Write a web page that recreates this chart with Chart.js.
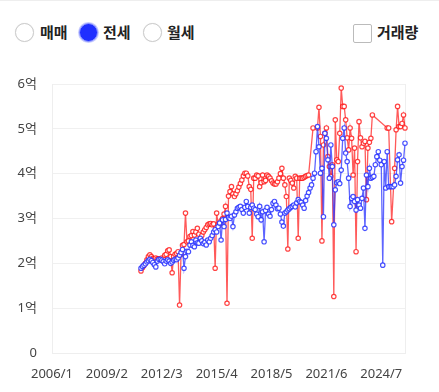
<!DOCTYPE html>
<html>
<head>
<meta charset="utf-8">
<script src="https://cdn.jsdelivr.net/npm/chart.js@4.4.1/dist/chart.umd.min.js"></script>
<style>
  body { margin: 0; background: #fff; font-family: 'Noto Sans', 'Noto Sans CJK KR', sans-serif; }
  #wrap { position: relative; width: 439px; height: 392px; border-top: 1px solid #eee; box-sizing: border-box; overflow: hidden; }
  .radio { position: absolute; top: 22px; width: 17px; height: 17px; border-radius: 50%; border: 1px solid #ccc; background: #fff; box-shadow: 0 0 1px #ddd; }
  .radio.on { background: #1f2fff; border-color: #8c96ff; box-shadow: 0 0 0 1px #c8ccff; }
  .lbl { position: absolute; top: 20px; font-size: 15px; font-weight: bold; color: #222; font-family: 'Noto Sans CJK KR', sans-serif; }
  .chk { position: absolute; left: 353px; top: 23px; width: 17px; height: 17px; border: 1px solid #bbb; border-radius: 2px; background: #fff; }
  #chart { position: absolute; left: 0; top: 59px; }
</style>
</head>
<body>
<div id="wrap">
  <div class="radio" style="left:15px"></div><div class="lbl" style="left:40px">매매</div>
  <div class="radio on" style="left:79px"></div><div class="lbl" style="left:103px">전세</div>
  <div class="radio" style="left:143px"></div><div class="lbl" style="left:167px">월세</div>
  <div class="chk"></div><div class="lbl" style="left:377px">거래량</div>
  <canvas id="chart" width="439" height="332"></canvas>
</div>
<script>
// months shown on the axis: 2006/1 .. 2025/11
const firstYear = 2006, lastYear = 2025, lastMonth = 11;
const shownTicks = ['2006/1', '2009/2', '2012/3', '2015/4', '2018/5', '2021/6', '2024/7'];
const dataStart = '2011/1';

// 억 units, monthly from 2011/1
const blueValues = [
  1.89,1.93,1.96,1.99,2.03,2.06,2.09,2.06,2.02,1.97,1.92,2.05,
  2.09,2.09,2.07,2.04,1.99,2.05,2.08,2.05,2.00,2.03,2.07,2.09,
  2.08,2.12,2.18,2.24,2.31,1.89,2.15,2.27,2.26,2.41,2.48,2.40,
  2.37,2.52,2.46,2.45,2.56,2.50,2.44,2.47,2.41,2.52,2.48,2.56,
  2.62,2.70,2.75,2.70,2.82,2.90,2.52,2.97,2.82,2.98,3.12,3.02,
  3.00,3.05,2.82,3.08,3.15,3.23,3.25,3.27,3.20,3.12,3.25,3.38,
  3.27,3.12,3.25,3.30,3.23,3.20,3.10,3.04,3.27,2.97,3.15,2.48,
  3.18,3.25,3.10,3.05,3.20,3.34,3.38,3.30,3.22,3.23,3.10,2.92,
  2.83,3.12,3.15,3.19,3.22,3.25,3.27,3.30,3.26,3.35,3.42,3.38,
  3.36,3.30,3.23,3.40,3.50,3.58,3.68,3.75,3.90,4.01,4.49,5.05,
  4.60,4.01,4.12,3.04,4.90,4.79,4.31,3.90,4.64,4.16,2.86,3.64,
  3.80,3.82,3.78,4.08,4.79,5.02,4.46,4.27,3.90,3.27,3.45,3.49,
  3.38,3.19,3.42,3.30,3.23,3.45,3.68,2.78,3.97,3.71,4.12,3.90,
  3.92,3.94,4.20,4.38,4.49,4.30,4.20,1.96,4.27,3.68,4.49,3.71,
  3.71,3.71,3.71,3.75,3.94,4.31,4.42,3.79,4.16,4.30,4.68
];
const redValues = [
  1.83,1.90,1.95,2.00,2.08,2.15,2.19,2.15,2.11,2.10,2.12,2.10,
  2.10,2.08,2.12,2.10,2.18,2.20,2.28,2.30,2.15,1.79,2.15,2.20,
  2.22,2.26,1.07,2.20,2.40,2.42,3.12,2.48,2.50,2.60,2.62,2.71,
  2.63,2.70,2.78,2.65,2.56,2.62,2.70,2.75,2.80,2.86,2.88,2.89,
  2.86,2.88,1.89,3.12,2.86,2.86,2.95,3.00,3.10,3.27,1.11,3.50,
  3.60,3.71,3.55,3.49,3.55,3.62,3.70,3.78,3.86,3.95,4.01,4.01,
  3.95,3.71,3.65,2.56,3.90,3.90,3.97,3.95,3.71,3.80,3.97,3.82,
  3.85,3.97,3.94,3.90,3.84,3.79,3.77,3.77,3.82,3.90,4.00,4.12,
  3.90,3.75,3.49,2.32,3.90,3.85,3.79,3.68,3.94,3.90,2.56,3.90,
  3.90,3.90,3.92,3.94,3.96,3.97,null,null,5.02,null,null,5.02,
  5.48,4.83,2.50,4.64,4.90,5.02,4.38,4.16,3.94,4.20,1.26,5.20,
  4.31,4.27,4.90,5.91,5.50,5.50,5.20,4.80,4.53,5.02,4.79,3.97,
  4.57,2.26,4.27,5.16,4.80,4.60,4.68,4.72,3.42,4.57,4.70,4.79,
  5.31,null,null,null,null,null,null,null,null,null,5.02,5.02,
  null,2.93,null,4.12,4.98,5.50,5.05,5.05,5.12,5.31,5.02
];

const labels = [];
for (let y = firstYear; y <= lastYear; y++) {
  for (let m = 1; m <= 12; m++) {
    if (y === lastYear && m > lastMonth) break;
    labels.push(y + '/' + m);
  }
}
const offset = labels.indexOf(dataStart);
function pad(values) {
  return labels.map((l, i) => (i >= offset && i - offset < values.length) ? values[i - offset] : null);
}

const ctx = document.getElementById('chart').getContext('2d');
const tickFont = { family: "'Noto Sans', 'Noto Sans CJK KR', sans-serif", size: 13 };
new Chart(ctx, {
  type: 'line',
  data: {
    labels: labels,
    datasets: [
      {
        data: pad(blueValues),
        borderColor: 'rgba(40, 50, 255, 0.75)',
        pointBorderColor: 'rgba(40, 50, 255, 0.85)',
        pointBackgroundColor: '#fff',
        borderWidth: 1.3,
        pointRadius: 2.2,
        pointBorderWidth: 1.2,
        spanGaps: true,
      },
      {
        data: pad(redValues),
        borderColor: 'rgba(255, 20, 20, 0.7)',
        pointBorderColor: 'rgba(255, 20, 20, 0.8)',
        pointBackgroundColor: '#fff',
        borderWidth: 1.3,
        pointRadius: 2.2,
        pointBorderWidth: 1.2,
        spanGaps: true,
      },
    ],
  },
  options: {
    responsive: false,
    animation: false,
    layout: { padding: { left: 16, right: 34, top: 24, bottom: 9 } },
    plugins: { legend: { display: false }, tooltip: { enabled: false } },
    scales: {
      x: {
        grid: { display: false, drawTicks: false },
        border: { color: '#eee' },
        afterFit: s => { s.height = 30; },
        ticks: {
          autoSkip: false, maxRotation: 0, minRotation: 0, padding: 13,
          color: '#444', font: tickFont,
          callback: function (v) { const l = this.getLabelForValue(v); return shownTicks.includes(l) ? l : ''; },
        },
      },
      y: {
        min: 0, max: 6,
        grid: { color: '#f0f0f0', drawTicks: false },
        border: { color: '#eee' },
        afterFit: s => { s.width = 36; },
        ticks: {
          stepSize: 1, padding: 15, color: '#444', font: tickFont,
          callback: v => v === 0 ? '0' : v + '억',
        },
      },
      y1: {
        position: 'right',
        grid: { drawOnChartArea: false, drawTicks: false },
        border: { color: '#eee' },
        afterFit: s => { s.width = 0; },
        ticks: { display: false },
      },
    },
  },
});
</script>
</body>
</html>
